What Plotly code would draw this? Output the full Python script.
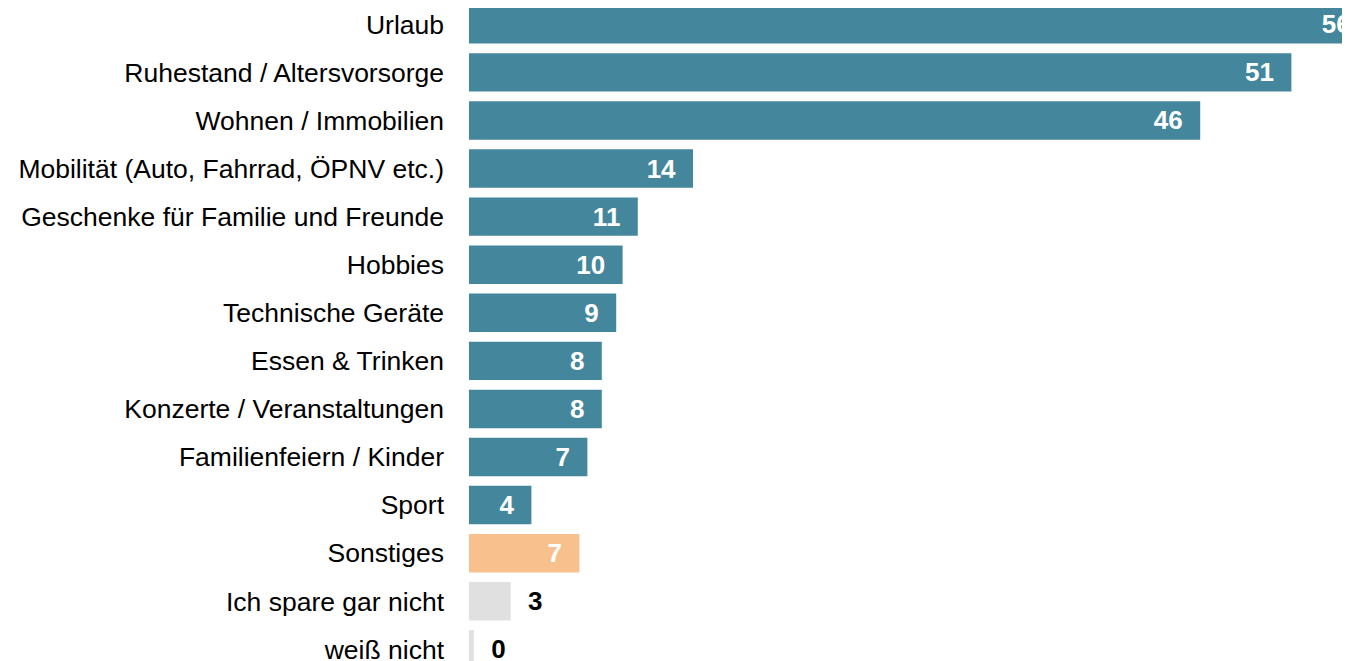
import plotly.graph_objects as go

categories = [
    "Urlaub",
    "Ruhestand / Altersvorsorge",
    "Wohnen / Immobilien",
    "Mobilität (Auto, Fahrrad, ÖPNV etc.)",
    "Geschenke für Familie und Freunde",
    "Hobbies",
    "Technische Geräte",
    "Essen & Trinken",
    "Konzerte / Veranstaltungen",
    "Familienfeiern / Kinder",
    "Sport",
    "Sonstiges",
    "Ich spare gar nicht",
    "weiß nicht",
]
# estimated shares (%); labels show rounded values
values = [56.2, 51.4, 45.7, 14.0, 10.55, 9.6, 9.2, 8.3, 8.3, 7.4, 3.9, 6.9, 2.6, 0.3]
groups = ["main"] * 11 + ["other", "none", "none"]

colors = {"main": "#44879c", "other": "#f8c08d", "none": "#e0e0e0"}
NB = "\u00a0"
FONT = "Liberation Sans, Arial, sans-serif"

bar_colors = [colors[g] for g in groups]
texts, positions, tcolors = [], [], []
for v, g in zip(values, groups):
    lab = f"{round(v):d}"
    if g == "none":
        texts.append(NB * 2 + lab)
        positions.append("outside")
        tcolors.append("#000000")
    else:
        texts.append(lab + NB * 2)
        positions.append("inside")
        tcolors.append("#ffffff")

fig = go.Figure(
    go.Bar(
        y=categories,
        x=values,
        orientation="h",
        marker=dict(color=bar_colors, line=dict(width=0)),
        text=texts,
        textposition=positions,
        insidetextanchor="end",
        textangle=0,
        constraintext="none",
        insidetextfont=dict(family=FONT, size=26, color=tcolors, weight="bold"),
        outsidetextfont=dict(family=FONT, size=26, color=tcolors, weight="bold"),
        cliponaxis=True,
        hoverinfo="skip",
    )
)

# the page body adds an 8px offset; compensate so the plot lands where the reference has it
OFFSET = 8
px_per_row = 48.08
px_per_unit = 16.0
left = 469 - OFFSET
plot_h = 661
plot_w = 1350 - left
top = -(24.3 - OFFSET) / px_per_row

fig.update_layout(
    width=1350,
    height=661,
    autosize=False,
    margin=dict(l=left, r=0, t=0, b=0),
    paper_bgcolor="white",
    plot_bgcolor="white",
    bargap=0.2,
    showlegend=False,
    font=dict(family=FONT, size=26, color="#000000"),
)
fig.update_xaxes(visible=False, range=[0, plot_w / px_per_unit])
fig.update_yaxes(
    type="category",
    categoryorder="array",
    categoryarray=categories,
    range=[top + plot_h / px_per_row, top],
    showgrid=False,
    zeroline=False,
    showline=False,
    ticks="",
    ticklabelstandoff=24,
    tickfont=dict(family=FONT, size=26.5, color="#000000"),
)

fig.write_html(
    "out.html",
    config={"displayModeBar": False, "staticPlot": True, "responsive": False},
)
